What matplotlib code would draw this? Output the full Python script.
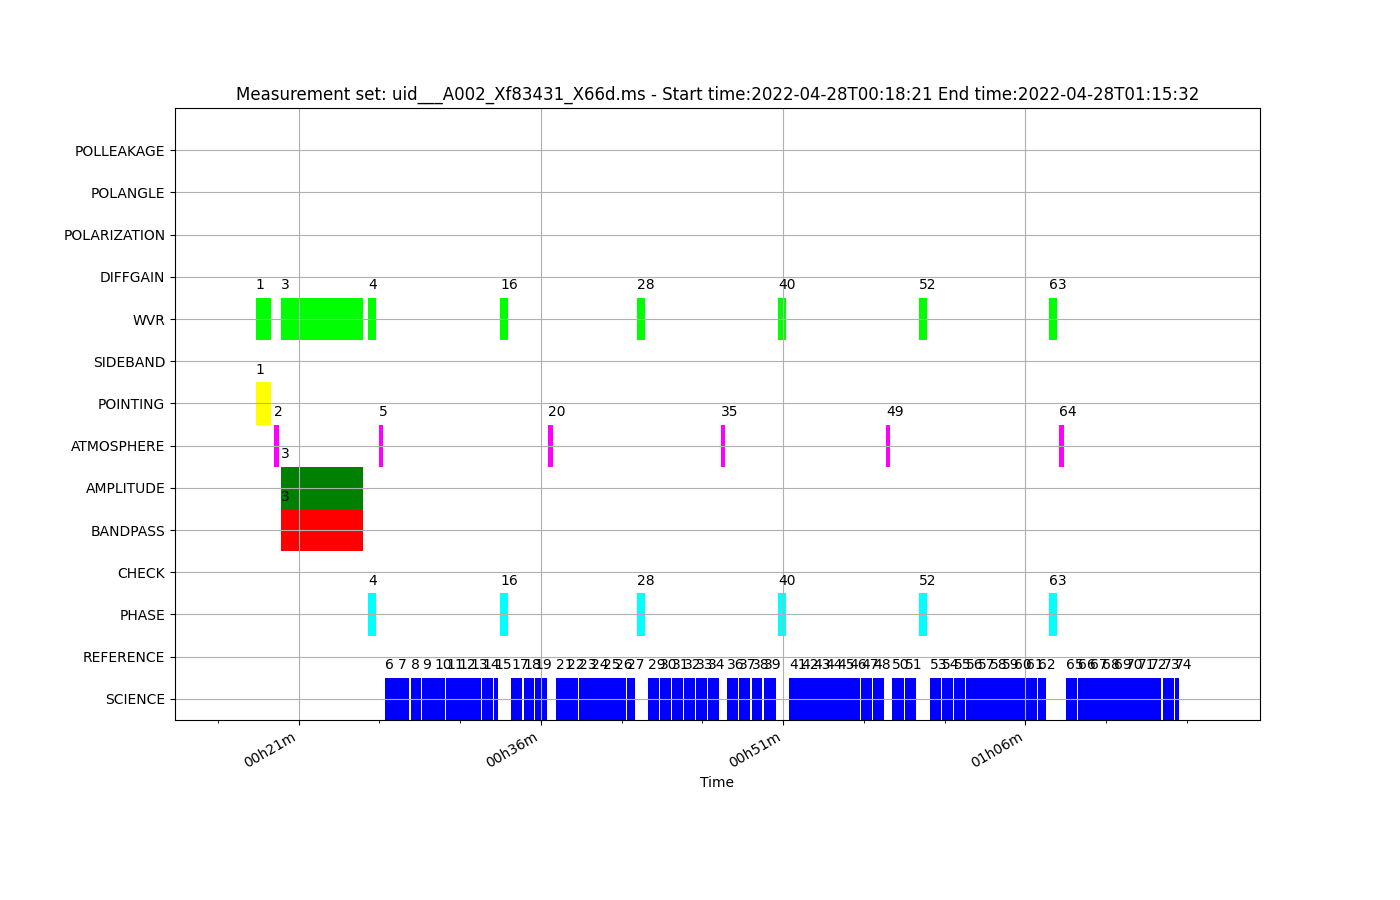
import datetime as dt
import matplotlib
matplotlib.use("Agg")
import matplotlib.pyplot as plt
import matplotlib.dates as mdates

# ==========================
# Data (read off the timeline)
# ==========================
ms_name = "uid___A002_Xf83431_X66d.ms"
obs_date = "2022-04-28"
t_start = "00:18:21"
t_end = "01:15:32"

intent_rows = ["SCIENCE", "REFERENCE", "PHASE", "CHECK", "BANDPASS", "AMPLITUDE",
               "ATMOSPHERE", "POINTING", "SIDEBAND", "WVR", "DIFFGAIN",
               "POLARIZATION", "POLANGLE", "POLLEAKAGE"]

intent_colors = {"SCIENCE": "blue", "PHASE": "cyan", "BANDPASS": "red",
                 "AMPLITUDE": "green", "ATMOSPHERE": "magenta",
                 "POINTING": "yellow", "WVR": "lime"}

scan_ids = list(range(1, 75))

scan_begin = [
    "00:18:21", "00:19:30", "00:19:56", "00:25:19", "00:26:00",
    "00:26:22", "00:27:08", "00:27:56", "00:28:39", "00:29:25",
    "00:30:09", "00:30:54", "00:31:39", "00:32:23", "00:33:08",
    "00:33:29", "00:34:10", "00:34:56", "00:35:38", "00:36:27",
    "00:36:55", "00:37:39", "00:38:23", "00:39:08", "00:39:52",
    "00:40:37", "00:41:20", "00:41:57", "00:42:39", "00:43:23",
    "00:44:08", "00:44:52", "00:45:37", "00:46:22", "00:47:10",
    "00:47:32", "00:48:17", "00:49:04", "00:49:49", "00:50:41",
    "00:51:22", "00:52:08", "00:52:53", "00:53:37", "00:54:22",
    "00:55:06", "00:55:51", "00:56:34", "00:57:23", "00:57:45",
    "00:58:33", "00:59:25", "01:00:07", "01:00:52", "01:01:35",
    "01:02:20", "01:03:05", "01:03:50", "01:04:34", "01:05:19",
    "01:06:03", "01:06:48", "01:07:27", "01:08:05", "01:08:31",
    "01:09:16", "01:10:01", "01:10:46", "01:11:30", "01:12:15",
    "01:12:59", "01:13:44", "01:14:30", "01:15:17",
]

scan_finish = [
    "00:19:19", "00:19:48", "00:25:00", "00:25:49", "00:26:14",
    "00:27:08", "00:27:51", "00:28:36", "00:29:25", "00:30:05",
    "00:30:54", "00:31:39", "00:32:19", "00:33:04", "00:33:21",
    "00:33:59", "00:34:51", "00:35:34", "00:36:23", "00:36:46",
    "00:37:39", "00:38:20", "00:39:08", "00:39:52", "00:40:34",
    "00:41:16", "00:41:49", "00:42:27", "00:43:19", "00:44:03",
    "00:44:48", "00:45:32", "00:46:17", "00:47:01", "00:47:25",
    "00:48:12", "00:48:57", "00:49:43", "00:50:33", "00:51:11",
    "00:52:08", "00:52:53", "00:53:37", "00:54:22", "00:55:06",
    "00:55:46", "00:56:30", "00:57:14", "00:57:38", "00:58:29",
    "00:59:13", "00:59:55", "01:00:47", "01:01:30", "01:02:15",
    "01:03:05", "01:03:50", "01:04:34", "01:05:19", "01:06:03",
    "01:06:42", "01:07:16", "01:07:57", "01:08:24", "01:09:12",
    "01:10:01", "01:10:46", "01:11:30", "01:12:15", "01:12:59",
    "01:13:44", "01:14:24", "01:15:12", "01:15:32",
]

# intents per scan (everything not listed is SCIENCE)
special_intents = {
    1: ["POINTING", "WVR"],
    2: ["ATMOSPHERE"],
    3: ["BANDPASS", "AMPLITUDE", "WVR"],
    4: ["PHASE", "WVR"],
    5: ["ATMOSPHERE"],
    16: ["PHASE", "WVR"],
    20: ["ATMOSPHERE"],
    28: ["PHASE", "WVR"],
    35: ["ATMOSPHERE"],
    40: ["PHASE", "WVR"],
    49: ["ATMOSPHERE"],
    52: ["PHASE", "WVR"],
    63: ["PHASE", "WVR"],
    64: ["ATMOSPHERE"],
}


def to_num(hms):
    return mdates.date2num(dt.datetime.strptime(obs_date + " " + hms, "%Y-%m-%d %H:%M:%S"))


# ==========================
# Plot
# ==========================
fig, ax = plt.subplots(figsize=(14, 9), dpi=100)

for sid, b, e in zip(scan_ids, scan_begin, scan_finish):
    x0 = to_num(b)
    w = to_num(e) - x0
    for intent in special_intents.get(sid, ["SCIENCE"]):
        row = intent_rows.index(intent)
        ax.broken_barh([(x0, w)], (row - 0.5, 1.0), facecolors=intent_colors[intent],
                       linewidth=0, antialiased=False)
        ax.text(x0, row + 0.7, str(sid), fontsize=10)

ax.set_yticks(range(len(intent_rows)))
ax.set_yticklabels(intent_rows)
ax.set_ylim(-0.5, 14)

pad = 5.0 / (24 * 60)
ax.set_xlim(to_num(t_start) - pad, to_num(t_end) + pad)
ax.xaxis_date()
ax.xaxis.set_major_locator(mdates.MinuteLocator(byminute=[6, 21, 36, 51]))
ax.xaxis.set_minor_locator(mdates.MinuteLocator(byminute=range(1, 60, 5)))
ax.xaxis.set_major_formatter(mdates.DateFormatter("%Hh%Mm"))

ax.grid(True)
ax.set_xlabel("Time")
ax.set_title("Measurement set: " + ms_name + " - Start time:" + obs_date + "T" + t_start
             + " End time:" + obs_date + "T" + t_end)
fig.autofmt_xdate()

fig.savefig("out.png")
